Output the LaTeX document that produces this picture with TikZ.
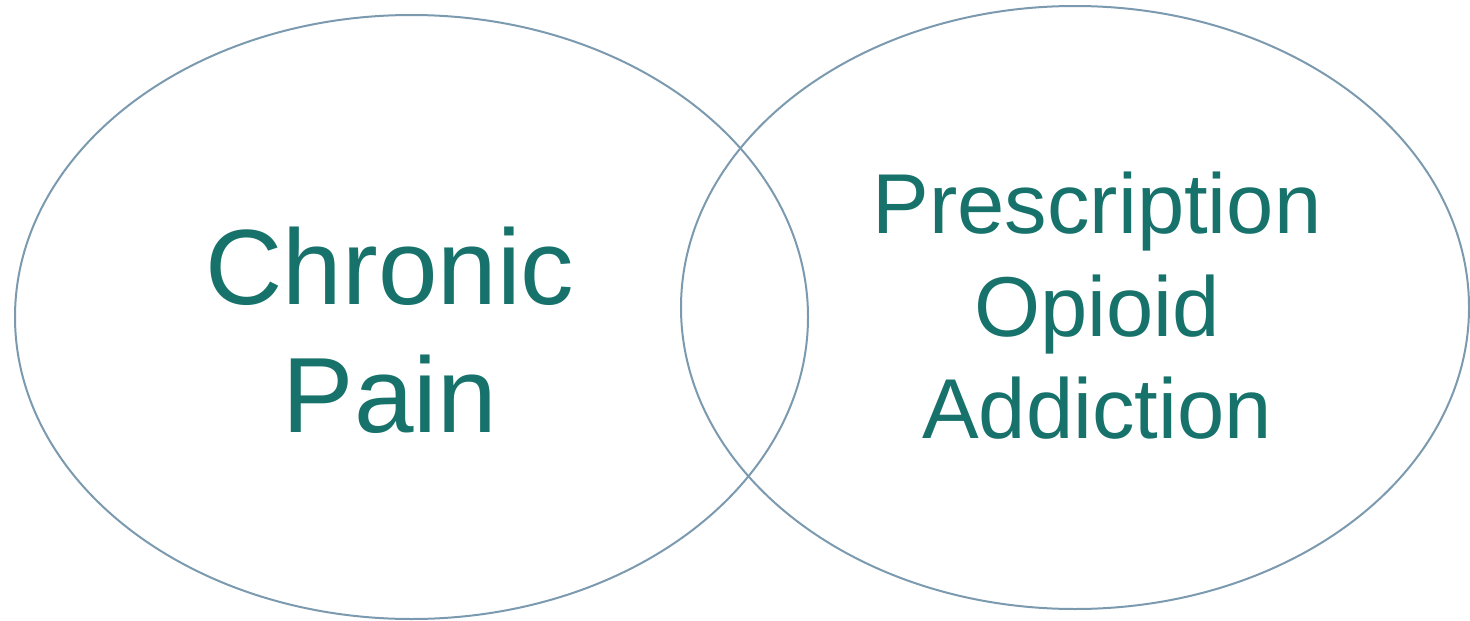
\documentclass[tikz,border=0pt]{standalone}
\usepackage{fontspec}
\setmainfont{Liberation Sans}
\usetikzlibrary{shapes.geometric}

\definecolor{rimblue}{HTML}{7B9AAF}
\definecolor{labelteal}{HTML}{16726A}

\tikzset{
  setring/.style={ellipse, draw=rimblue, line width=2pt, inner sep=0pt},
  setlabel/.style={text=labelteal, align=center, inner sep=0pt}
}

\begin{document}
\begin{tikzpicture}[x=1pt,y=-1pt]
            \useasboundingbox (0,0) rectangle (1470,621);

            \node[setring, minimum width=793pt, minimum height=604pt] (pain) at (411.5,317) {};
            \node[setring, minimum width=788pt, minimum height=603pt] (opioid) at (1075,307.5) {};

            \node[setlabel, font=\fontsize{107}{128}\selectfont] (painlabel) at (390,330) {Chronic\\Pain};
            \node[setlabel, font=\fontsize{85}{102.5}\selectfont] (opioidlabel) at (1097,306) {Prescription\\Opioid\\Addiction};
        \end{tikzpicture}
\end{document}
